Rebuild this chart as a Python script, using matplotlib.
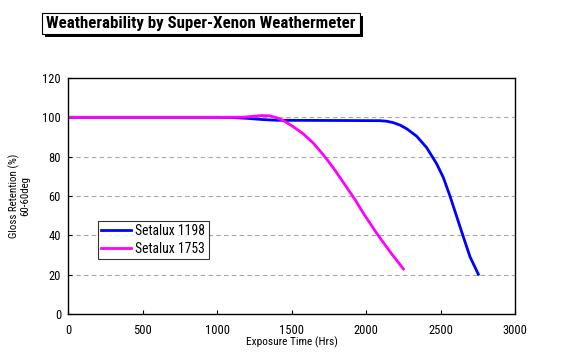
import matplotlib.pyplot as plt
import matplotlib.patches as patches
from matplotlib import font_manager

# data
hrs_1198 = [0, 500, 1000, 1100, 1200, 1300, 1400, 1800, 2094, 2140, 2183, 2230, 2273,
            2340, 2407, 2474, 2519, 2564, 2609, 2653, 2698, 2754]
gloss_1198 = [100, 100, 100, 99.9, 99.5, 98.9, 98.5, 98.4, 98.3, 98.0, 97.3, 96.0, 94.2,
              90.4, 84.6, 76.4, 69.4, 59.9, 49.5, 39.3, 29.1, 20.2]

hrs_1753 = [0, 500, 1000, 1100, 1180, 1240, 1300, 1350, 1400, 1445, 1512, 1579, 1646,
            1714, 1781, 1848, 1926, 1982, 2072, 2161, 2251]
gloss_1753 = [100, 100, 100, 100, 100.1, 100.5, 100.9, 100.8, 99.8, 98.4, 95.2, 91.6, 86.9,
              80.9, 74.3, 66.9, 58.2, 51.3, 41, 31.7, 22.9]

x_ticks = [0, 500, 1000, 1500, 2000, 2500, 3000]
y_ticks = [0, 20, 40, 60, 80, 100, 120]

# narrow-ish font, first one that is installed
names = {f.name for f in font_manager.fontManager.ttflist}
candidates = ['Liberation Sans Narrow', 'DejaVu Sans Condensed', 'Roboto Condensed',
              'Open Sans Condensed', 'Noto Sans CJK JP']
narrow = next((c for c in candidates if c in names), 'DejaVu Sans')
plt.rcParams['font.family'] = [narrow, 'DejaVu Sans']

fig = plt.figure(figsize=(5.63, 3.56), dpi=100)
ax = fig.add_axes([68 / 563, 1 - 314 / 356, 447 / 563, 236 / 356])

ax.plot(hrs_1198, gloss_1198, color='#0000ff', lw=2.0, label='Setalux 1198')
ax.plot(hrs_1753, gloss_1753, color='#ff00ff', lw=2.0, label='Setalux 1753')

ax.set_xlim(0, 3000)
ax.set_ylim(0, 120)
ax.set_xticks(x_ticks)
ax.set_yticks(y_ticks)
ax.tick_params(direction='in', labelsize=9, length=3, width=0.8)
ax.tick_params(axis='x', pad=7)
ax.tick_params(axis='y', pad=5)
for y in y_ticks[1:-1]:
    ax.axhline(y, color='#a8a8a8', lw=0.8, ls=(0, (4, 3)), zorder=0)
for s in ax.spines.values():
    s.set_linewidth(1.0)

ax.set_xlabel('Exposure Time (Hrs)', fontsize=8.2, labelpad=0)
ax.set_ylabel('Gloss Retention (%)\n60-60deg', fontsize=7.8, labelpad=9, linespacing=1.0)

leg = ax.legend(loc='lower left', bbox_to_anchor=(0.067, 0.233), fontsize=9.8,
                frameon=True, fancybox=False, edgecolor='black', handlelength=2.2,
                handletextpad=0.3, borderpad=0.25, labelspacing=0.25, borderaxespad=0)
leg.get_frame().set_linewidth(0.8)

# title box with drop shadow
fig.patches.append(patches.Rectangle((45 / 563, 1 - 37 / 356), 318 / 563, 21 / 356,
                                     transform=fig.transFigure, fc='black', ec='none'))
fig.patches.append(patches.Rectangle((42 / 563, 1 - 34 / 356), 318 / 563, 21 / 356,
                                     transform=fig.transFigure, fc='white', ec='black', lw=0.8))
fig.text(201 / 563, 1 - 23.5 / 356, 'Weatherability by Super-Xenon Weathermeter',
         ha='center', va='center', fontsize=12.2, fontweight='bold')

fig.savefig('out.png', dpi=100)
